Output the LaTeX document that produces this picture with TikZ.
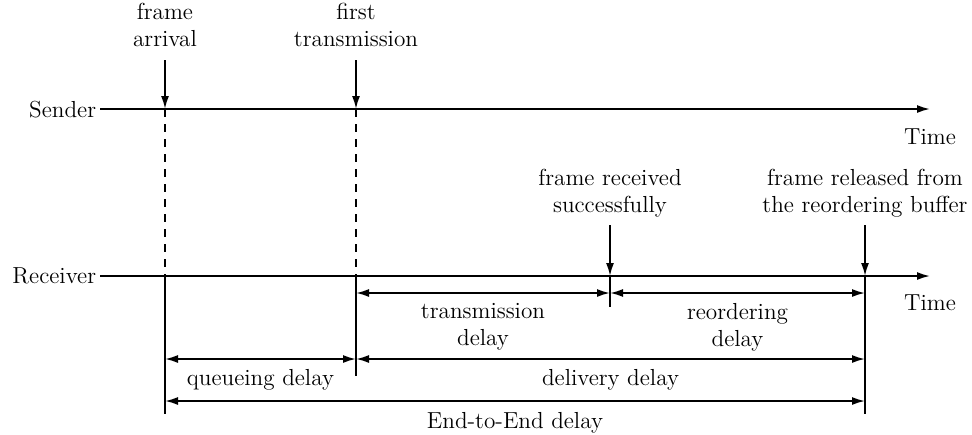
\documentclass[tikz,border=0pt]{standalone}
\usetikzlibrary{arrows.meta,positioning}
\begin{document}
\begin{tikzpicture}[x=0.5pt,y=-0.5pt,line width=0.9pt,
    lbl/.style={font=\fontsize{11.6}{13.5}\selectfont,align=center,inner sep=0pt,text depth=0pt},
    evarrow/.style={-{Latex[length=6.5pt,width=4pt]}},
    dimline/.style={{Latex[length=6.5pt,width=4pt]}-{Latex[length=6.5pt,width=4pt]}},
    guide/.style={dash pattern=on 4pt off 3.5pt}]
    \useasboundingbox (0,0) rectangle (972,434);

    % time axes
    \node[lbl,anchor=east,inner xsep=1.5pt] (sender) at (100,109) {Sender};
    \node[lbl,anchor=east,inner xsep=1.5pt] (receiver) at (100,276) {Receiver};
    \coordinate (send end) at (930,109);
    \coordinate (recv end) at (930,276);
    \draw[evarrow] (sender) -- (send end);
    \draw[evarrow] (receiver) -- (recv end);
    \node[lbl,below=9.5pt of send end] (time s) {Time};
    \node[lbl,below=9pt of recv end] (time r) {Time};

    % points in time
    \coordinate (arr s) at (165,109);
    \coordinate (arr r) at (165,276);
    \coordinate (arr b) at (165,414);
    \coordinate (tx s) at (356,109);
    \coordinate (tx r) at (356,276);
    \coordinate (tx b) at (356,376);
    \coordinate (rx r) at (610,276);
    \coordinate (rx b) at (610,307);
    \coordinate (rel r) at (865,276);
    \coordinate (rel b) at (865,414);

    \node[lbl,anchor=south] (arrival) at (165,47) {frame\\arrival};
    \node[lbl,anchor=south] (first) at (356,47) {first\\transmission};
    \node[lbl,anchor=south] (received) at (610,213) {frame received\\successfully};
    \node[lbl,anchor=south] (released) at (865,213) {frame released from\\the reordering buffer};

    \draw[evarrow,shorten <=6.5pt] (arrival) -- (arr s);
    \draw[evarrow,shorten <=6.5pt] (first) -- (tx s);
    \draw[evarrow,shorten <=6pt] (received) -- (rx r);
    \draw[evarrow,shorten <=6pt] (released) -- (rel r);

    \draw[guide] (arr s) -- (arr r);
    \draw[guide] (tx s) -- (tx r);
    \draw (arr r) -- (arr b);
    \draw (tx r) -- (tx b);
    \draw (rx r) -- (rx b);
    \draw (rel r) -- (rel b);

    % delays
    \coordinate (lvl a) at (0,293);
    \coordinate (lvl b) at (0,359);
    \coordinate (lvl c) at (0,401);
    \draw[dimline] (tx r |- lvl a) -- node[lbl,below=4.5pt] (trans) {transmission\\delay} (rx r |- lvl a);
    \draw[dimline] (rx r |- lvl a) -- node[lbl,below=4.5pt] (reord) {reordering\\delay} (rel r |- lvl a);
    \draw[dimline] (arr r |- lvl b) -- node[lbl,below=4.5pt] (queue) {queueing delay} (tx r |- lvl b);
    \draw[dimline] (tx r |- lvl b) -- node[lbl,below=4.5pt] (deliv) {delivery delay} (rel r |- lvl b);
    \draw[dimline] (arr r |- lvl c) -- node[lbl,below=5pt] (e2e) {End-to-End delay} (rel r |- lvl c);
\end{tikzpicture}
\end{document}
